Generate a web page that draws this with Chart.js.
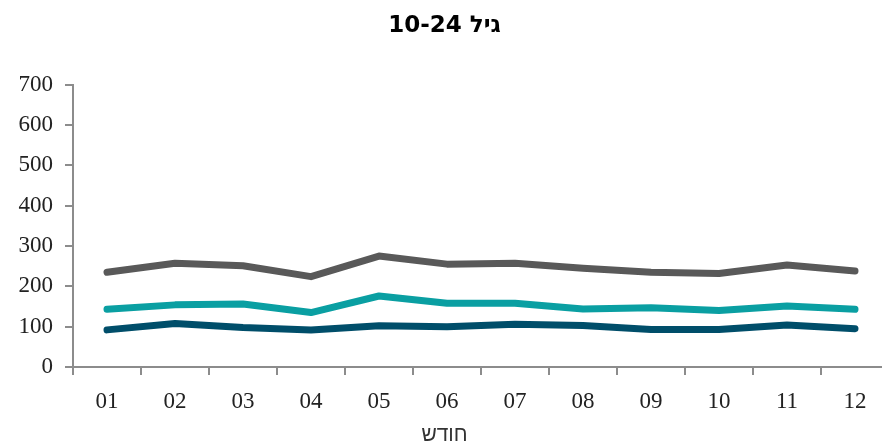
<!DOCTYPE html>
<html lang="he">
<head>
<meta charset="utf-8">
<title>גיל 10-24</title>
<script src="https://cdn.jsdelivr.net/npm/chart.js@4.4.1/dist/chart.umd.min.js"></script>
<style>
  html, body { margin: 0; padding: 0; background: #fff; overflow: hidden; }
  #chart { display: block; }
</style>
</head>
<body>
<canvas id="chart" width="900" height="446" dir="rtl"></canvas>
<script>
// chart data
const months = ['01', '02', '03', '04', '05', '06', '07', '08', '09', '10', '11', '12'];
const seriesTop = [235, 257, 251, 224, 275, 255, 257, 245, 235, 232, 253, 238];
const seriesMid = [143, 154, 156, 135, 176, 158, 158, 144, 147, 140, 151, 143];
const seriesLow = [92, 108, 98, 92, 102, 100, 106, 103, 93, 93, 104, 95];
const yTicks = [0, 100, 200, 300, 400, 500, 600, 700];

const axisGray = '#8c8c8c';
const tickFont = { family: "'Liberation Serif', 'Times New Roman', serif", size: 23 };

function line(label, data, color) {
  return {
    label: label,
    data: data,
    borderColor: color,
    backgroundColor: color,
    borderWidth: 7,
    borderCapStyle: 'round',
    borderJoinStyle: 'round',
    pointRadius: 0,
    tension: 0,
    fill: false,
  };
}

const ctx = document.getElementById('chart').getContext('2d');
const chart = new Chart(ctx, {
  type: 'line',
  data: {
    labels: months,
    datasets: [
      line('A', seriesTop, '#595959'),
      line('B', seriesMid, '#0a9fa2'),
      line('C', seriesLow, '#004e6a'),
    ],
  },
  options: {
    responsive: false,
    animation: false,
    layout: { padding: { left: 0, right: 11, top: 0, bottom: 0 } },
    plugins: {
      legend: { display: false },
      tooltip: { enabled: false },
      title: {
        display: true,
        text: 'גיל 10-24',
        color: '#000',
        font: { family: "'DejaVu Sans', sans-serif", size: 23, weight: 'bold', lineHeight: 1.2 },
        padding: { top: 12, bottom: 45 },
      },
      // x axis name sits centred under the whole picture
      subtitle: {
        display: true,
        position: 'bottom',
        text: 'חודש',
        color: '#333',
        font: { family: "'Liberation Sans', Arial, sans-serif", size: 21, lineHeight: 1 },
        padding: { top: 0, bottom: 0 },
      },
    },
    scales: {
      x: {
        offset: true,
        grid: {
          offset: true,
          drawOnChartArea: false,
          color: axisGray,
          lineWidth: 2,
          tickLength: 8,
        },
        border: { color: axisGray, width: 2 },
        ticks: { color: '#222', font: tickFont, padding: 13, maxRotation: 0 },
        afterFit: (scale) => { scale.height = 58; },
      },
      y: {
        min: 0,
        max: 700,
        afterBuildTicks: (scale) => { scale.ticks = yTicks.map((v) => ({ value: v })); },
        grid: {
          drawOnChartArea: false,
          color: axisGray,
          lineWidth: 2,
          tickLength: 8,
        },
        border: { color: axisGray, width: 2 },
        ticks: { color: '#222', font: tickFont, padding: 12 },
        afterFit: (scale) => { scale.width = 73; },
      },
    },
  },
});
</script>
</body>
</html>
